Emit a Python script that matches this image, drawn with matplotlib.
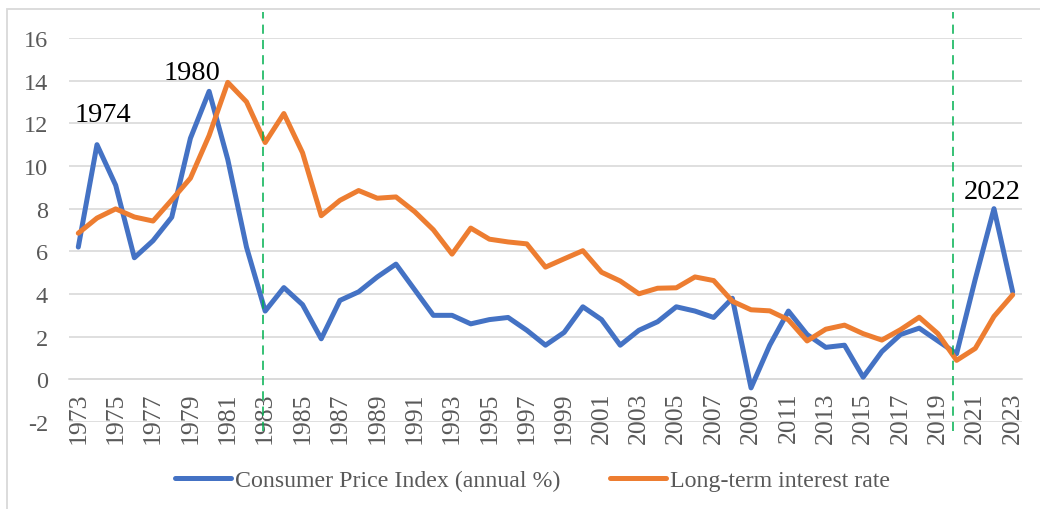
import matplotlib.pyplot as plt
from matplotlib.patches import Rectangle

years = list(range(1973, 2024))
cpi = [6.2, 11.0, 9.1, 5.7, 6.5, 7.6, 11.3, 13.5, 10.3, 6.2,
       3.2, 4.3, 3.5, 1.9, 3.7, 4.1, 4.8, 5.4, 4.2, 3.0,
       3.0, 2.6, 2.8, 2.9, 2.3, 1.6, 2.2, 3.4, 2.8, 1.6,
       2.3, 2.7, 3.4, 3.2, 2.9, 3.8, -0.4, 1.6, 3.2, 2.1,
       1.5, 1.6, 0.1, 1.3, 2.1, 2.4, 1.8, 1.2, 4.7, 8.0, 4.1]
rate = [6.85, 7.56, 7.99, 7.61, 7.42, 8.41, 9.43, 11.43, 13.92, 13.01,
        11.10, 12.46, 10.62, 7.67, 8.39, 8.85, 8.49, 8.55, 7.86, 7.01,
        5.87, 7.09, 6.57, 6.44, 6.35, 5.26, 5.65, 6.03, 5.02, 4.61,
        4.01, 4.27, 4.29, 4.80, 4.63, 3.66, 3.26, 3.21, 2.79, 1.80,
        2.35, 2.54, 2.14, 1.84, 2.33, 2.91, 2.14, 0.89, 1.45, 2.95, 3.96]
labels = ['Consumer Price Index (annual %)', 'Long-term interest rate']
marked_years = ['1974', '1980', '2022']
marked_pos = [(1974.3, 12.4), (1979.1, 14.4), (2021.9, 8.8)]
breaks = [1982.9, 2019.8]

plt.rcParams['font.family'] = ['Liberation Serif', 'DejaVu Serif']
plt.rcParams['axes.unicode_minus'] = False

fig = plt.figure(figsize=(10.4, 5.1), dpi=100)
ax = fig.add_axes([0.0663, 0.1706, 0.9164, 0.7529])

# outer chart frame
fig.patches.append(Rectangle((7 / 1040, -0.05), 1.1, 1 - 10 / 510 + 0.05,
                             transform=fig.transFigure, fill=False,
                             edgecolor='#D9D9D9', linewidth=1.3))

# x axis crosses at zero (set before ticks, it resets them)
for s in ['top', 'right', 'left']:
    ax.spines[s].set_visible(False)
ax.spines['bottom'].set_position(('data', 0))
ax.spines['bottom'].set_color('#D9D9D9')
ax.spines['bottom'].set_linewidth(1.2)

ax.plot(years, cpi, color='#4472C4', linewidth=3.6, solid_capstyle='round',
        label=labels[0], zorder=3)
ax.plot(years, rate, color='#ED7D31', linewidth=3.6, solid_capstyle='round',
        label=labels[1], zorder=3)

for b in breaks:
    ax.plot([b, b], [-2.4, 17.2], color='#00B050', linewidth=1.1,
            linestyle=(0, (6, 4)), clip_on=False, zorder=4)

for txt, (x, y) in zip(marked_years, marked_pos):
    ax.text(x, y, txt, fontsize=20.5, ha='center', va='center', color='black')

ax.set_xlim(1972.5, 2023.5)
ax.set_ylim(-2, 16)
ax.set_yticks(range(-2, 17, 2))
ax.set_xticks(years[::2])
ax.set_xticklabels([str(y) for y in years[::2]], rotation=90, va='top')
ax.grid(axis='y', color='#D9D9D9', linewidth=1.2)
ax.set_axisbelow(True)

ax.tick_params(axis='both', length=0, labelcolor='#595959')
ax.tick_params(axis='y', pad=15, labelsize=17.5)
ax.tick_params(axis='x', pad=8.5, labelsize=18.5)

fig.legend(loc='center', bbox_to_anchor=(0.512, 1 - 481 / 510), ncol=2,
           frameon=False, fontsize=17.2, labelcolor='#595959',
           handlelength=2.34, handletextpad=0.15, columnspacing=2.1)

fig.savefig('out.png', dpi=100)
